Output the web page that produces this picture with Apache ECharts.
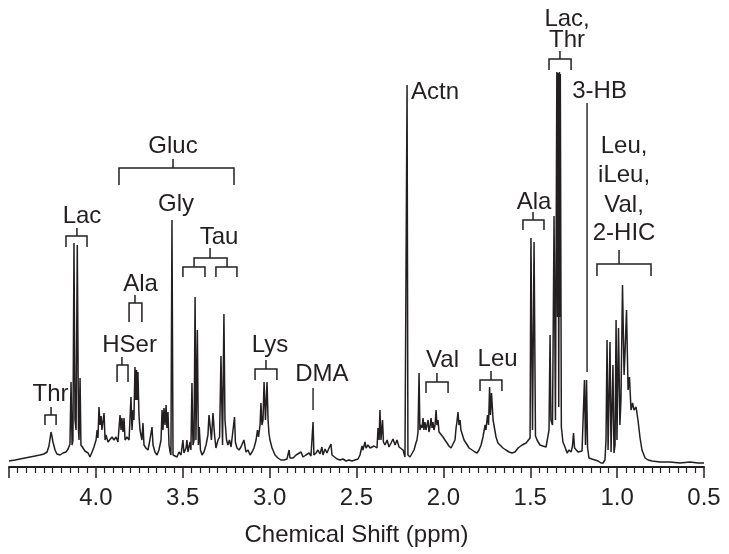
<!DOCTYPE html>
<html><head><meta charset="utf-8">
<script src="https://cdn.jsdelivr.net/npm/echarts@6/dist/echarts.min.js"></script>
<style>html,body{margin:0;padding:0;background:#fff}#c{width:729px;height:554px}</style>
</head><body><div id="c"></div>
<script>
// [chemical shift (ppm), intensity]
const spectrumPoints = [[4.500,6],[4.465,7],[4.437,8],[4.408,9],[4.379,10],[4.350,11],[4.322,12],[4.299,13],[4.281,15],[4.270,21],[4.258,35],[4.253,31],[4.247,25],[4.235,17],[4.224,13],[4.206,12],[4.189,14],[4.172,15],[4.160,18],[4.149,23],[4.143,85],[4.137,22],[4.132,27],[4.126,224],[4.120,47],[4.114,37],[4.107,222],[4.100,37],[4.097,27],[4.091,89],[4.086,22],[4.074,19],[4.063,16],[4.045,14],[4.034,10],[4.022,15],[4.011,20],[3.999,27],[3.993,37],[3.988,29],[3.982,60],[3.976,42],[3.970,51],[3.965,37],[3.953,54],[3.947,27],[3.942,32],[3.930,25],[3.919,27],[3.907,30],[3.896,27],[3.884,30],[3.873,25],[3.861,52],[3.855,37],[3.850,49],[3.844,35],[3.838,49],[3.832,27],[3.821,30],[3.809,27],[3.798,70],[3.792,37],[3.786,57],[3.781,47],[3.775,100],[3.770,67],[3.766,97],[3.762,67],[3.758,95],[3.752,52],[3.746,37],[3.735,27],[3.729,44],[3.723,22],[3.712,19],[3.700,17],[3.689,27],[3.677,40],[3.671,22],[3.660,15],[3.648,12],[3.637,17],[3.625,27],[3.619,57],[3.614,37],[3.608,59],[3.602,42],[3.596,62],[3.591,39],[3.585,55],[3.579,22],[3.573,15],[3.568,12],[3.562,247],[3.556,12],[3.545,14],[3.533,10],[3.522,15],[3.510,12],[3.499,27],[3.493,14],[3.481,19],[3.476,27],[3.470,15],[3.464,17],[3.458,25],[3.453,17],[3.447,84],[3.441,22],[3.435,27],[3.429,170],[3.424,27],[3.416,137],[3.410,22],[3.405,40],[3.398,17],[3.389,12],[3.378,15],[3.366,22],[3.355,32],[3.349,52],[3.340,37],[3.335,27],[3.326,54],[3.317,32],[3.309,19],[3.297,27],[3.288,30],[3.280,111],[3.271,22],[3.263,153],[3.257,47],[3.248,27],[3.240,22],[3.231,27],[3.222,20],[3.211,22],[3.202,50],[3.197,25],[3.188,19],[3.176,17],[3.165,20],[3.148,27],[3.136,15],[3.124,17],[3.113,12],[3.101,15],[3.090,19],[3.078,27],[3.070,37],[3.064,30],[3.055,42],[3.050,64],[3.044,42],[3.038,47],[3.032,85],[3.024,47],[3.015,85],[3.009,47],[3.004,34],[2.998,27],[2.986,19],[2.969,12],[2.952,9],[2.935,7],[2.917,7],[2.900,8],[2.888,17],[2.883,9],[2.865,9],[2.848,12],[2.837,10],[2.819,15],[2.808,10],[2.791,12],[2.773,14],[2.762,11],[2.750,45],[2.745,12],[2.733,14],[2.722,17],[2.710,13],[2.699,20],[2.693,12],[2.681,18],[2.670,14],[2.658,19],[2.647,23],[2.641,12],[2.630,11],[2.612,8],[2.595,7],[2.578,8],[2.560,6],[2.543,7],[2.526,6],[2.509,7],[2.491,8],[2.480,12],[2.468,21],[2.463,17],[2.451,25],[2.445,19],[2.434,22],[2.422,19],[2.411,18],[2.399,21],[2.388,22],[2.382,19],[2.376,39],[2.370,27],[2.365,57],[2.359,27],[2.350,47],[2.345,25],[2.336,22],[2.324,27],[2.313,20],[2.301,24],[2.290,28],[2.278,22],[2.267,27],[2.255,20],[2.244,22],[2.232,17],[2.221,10],[2.215,12],[2.209,382],[2.204,12],[2.192,10],[2.181,12],[2.169,17],[2.158,24],[2.152,27],[2.146,35],[2.140,94],[2.135,37],[2.129,42],[2.123,39],[2.117,49],[2.112,37],[2.106,45],[2.100,37],[2.094,42],[2.088,47],[2.083,35],[2.077,40],[2.071,49],[2.065,39],[2.060,45],[2.054,37],[2.048,42],[2.042,57],[2.037,42],[2.031,47],[2.025,35],[2.014,37],[2.002,30],[1.991,27],[1.979,24],[1.968,21],[1.956,19],[1.945,17],[1.933,27],[1.927,39],[1.922,45],[1.916,55],[1.910,42],[1.904,47],[1.899,37],[1.893,35],[1.881,27],[1.870,24],[1.852,19],[1.835,17],[1.818,15],[1.806,14],[1.795,17],[1.783,22],[1.772,30],[1.760,42],[1.755,37],[1.746,52],[1.740,42],[1.734,80],[1.729,52],[1.723,74],[1.714,47],[1.709,42],[1.697,30],[1.686,24],[1.674,22],[1.657,19],[1.640,17],[1.622,15],[1.605,14],[1.588,15],[1.570,19],[1.559,17],[1.547,22],[1.536,20],[1.524,24],[1.513,22],[1.501,29],[1.496,229],[1.487,37],[1.478,225],[1.470,31],[1.461,27],[1.444,22],[1.427,21],[1.409,20],[1.398,22],[1.392,37],[1.386,132],[1.381,47],[1.372,42],[1.363,251],[1.355,47],[1.347,395],[1.343,150],[1.340,394],[1.336,60],[1.332,395],[1.330,150],[1.327,393],[1.321,40],[1.312,25],[1.306,27],[1.300,20],[1.288,14],[1.277,17],[1.265,15],[1.257,21],[1.251,34],[1.245,19],[1.237,17],[1.225,15],[1.214,16],[1.202,16],[1.194,17],[1.188,87],[1.182,22],[1.176,87],[1.170,19],[1.162,9],[1.145,8],[1.127,7],[1.110,6],[1.093,4],[1.081,4],[1.070,7],[1.064,27],[1.058,127],[1.052,17],[1.047,15],[1.041,125],[1.035,15],[1.029,14],[1.024,102],[1.018,14],[1.012,22],[1.006,147],[1.001,27],[0.992,139],[0.984,42],[0.978,67],[0.969,182],[0.960,92],[0.955,112],[0.946,157],[0.937,77],[0.929,90],[0.920,57],[0.911,64],[0.903,57],[0.891,60],[0.880,47],[0.868,29],[0.857,17],[0.839,9],[0.822,7],[0.799,6],[0.753,5],[0.696,5],[0.638,4],[0.581,5],[0.535,4],[0.500,4]];

// peak assignment labels
const labelTexts   = ['Thr','Lac','Ala','HSer','Gly','Gluc','Tau','Lys','DMA','Actn','Val','Leu','Ala','Lac,','Thr','3-HB','Leu,','iLeu,','Val,','2-HIC'];
const labelShifts  = [4.261,4.080,3.743,3.806,3.539,3.556,3.291,2.998,2.699,2.186,2.005,1.688,1.478,1.288,1.288,1.101,0.960,0.960,0.960,0.960];
const labelHeights = [73,251,183,122,263,321,230,122,93,375,107,108,265,448,427,376,321,292,262,234];
const labelAligns  = ['center','center','center','center','center','center','center','center','center','left','center','center','center','center','center','center','center','center','center','center'];

// brackets: [left ppm, right ppm, stem ppm] and [bar height, stem top, leg bottom]
const bracketShifts = [[4.293,4.229,4.258],[4.172,4.051,4.109],[3.809,3.735,3.775],[3.878,3.815,3.850],[3.867,3.205,3.556],[3.435,3.245,3.343],[3.499,3.372,3.435],[3.309,3.188,3.245],[3.084,2.958,3.021],[2.100,1.973,2.037],[1.789,1.663,1.726],[1.542,1.421,1.484],[1.392,1.265,1.329],[1.116,0.805,0.989]];
const bracketLevels = [[52,60,42],[231,239,220],[164,172,145],[102,110,85],[299,308,282],[209,219,200],[200,200,190],[200,200,190],[98,107,87],[85,94,74],[87,96,76],[247,255,237],[408,416,397],[203,217,191]];

// single leader lines: ppm, [top, bottom]
const leaderShifts = [2.750, 1.173];
const leaderLevels = [[79,57],[364,95]];

const INK = '#231f20';
const FONT = '"Liberation Sans", Arial, Helvetica, sans-serif';
const FS = 24;

const chart = echarts.init(document.getElementById('c'), null, {renderer:'canvas'});
chart.setOption({
  animation: false,
  backgroundColor: '#fff',
  grid: {left: 9, right: 25, top: 0, bottom: 87},
  xAxis: {
    type: 'value', inverse: true, min: 0.5, max: 4.5, interval: 0.5,
    axisLine: {show: true, lineStyle: {color: INK, width: 2}},
    axisTick: {show: true, length: 11, lineStyle: {color: INK, width: 1.5}},
    minorTick: {show: true, splitNumber: 10, length: 6, lineStyle: {color: INK, width: 1.2}},
    splitLine: {show: false}, minorSplitLine: {show: false},
    axisLabel: {fontSize: FS, color: INK, fontFamily: FONT, margin: 19,
      formatter: v => (Math.abs(v - 4.5) < 1e-6 ? '' : v.toFixed(1))},
    name: 'Chemical Shift (ppm)', nameLocation: 'middle', nameGap: 56,
    nameTextStyle: {fontSize: FS, color: INK, fontFamily: FONT}
  },
  yAxis: {type: 'value', min: 0, max: 467, show: false},
  series: [
    {
      type: 'line', data: spectrumPoints, showSymbol: false, symbol: 'none',
      lineStyle: {color: INK, width: 1.5}, sampling: null, silent: true
    },
    {
      type: 'custom', coordinateSystem: 'cartesian2d', silent: true, clip: false,
      data: bracketShifts.map((s, i) => [s[0], s[1], s[2], bracketLevels[i][0], bracketLevels[i][1], bracketLevels[i][2]]),
      encode: {x: [0, 1, 2], y: [3, 4, 5]},
      renderItem: function (params, api) {
        const l = api.value(0), r = api.value(1), st = api.value(2);
        const bar = api.value(3), top = api.value(4), bot = api.value(5);
        const pl = api.coord([l, bot]), plb = api.coord([l, bar]);
        const pr = api.coord([r, bar]), prb = api.coord([r, bot]);
        const children = [{
          type: 'polyline',
          shape: {points: [pl, plb, pr, prb]},
          style: {stroke: INK, lineWidth: 1.5, fill: null}
        }];
        if (top > bar) {
          const a = api.coord([st, bar]), b = api.coord([st, top]);
          children.push({type: 'line', shape: {x1: a[0], y1: a[1], x2: b[0], y2: b[1]},
            style: {stroke: INK, lineWidth: 1.5}});
        }
        return {type: 'group', children: children};
      }
    },
    {
      type: 'custom', coordinateSystem: 'cartesian2d', silent: true, clip: false,
      data: leaderShifts.map((s, i) => [s, leaderLevels[i][0], leaderLevels[i][1]]),
      encode: {x: 0, y: [1, 2]},
      renderItem: function (params, api) {
        const a = api.coord([api.value(0), api.value(1)]);
        const b = api.coord([api.value(0), api.value(2)]);
        return {type: 'line', shape: {x1: a[0], y1: a[1], x2: b[0], y2: b[1]},
          style: {stroke: INK, lineWidth: 1.4}};
      }
    },
    {
      type: 'custom', coordinateSystem: 'cartesian2d', silent: true, clip: false,
      data: labelShifts.map((s, i) => [s, labelHeights[i], i]),
      encode: {x: 0, y: 1},
      renderItem: function (params, api) {
        const p = api.coord([api.value(0), api.value(1)]);
        const idx = api.value(2);
        return {type: 'text', x: p[0], y: p[1],
          style: {text: labelTexts[idx], fill: INK, fontSize: FS, fontFamily: FONT,
            align: labelAligns[idx], verticalAlign: 'middle'}};
      }
    }
  ]
});
</script>
</body></html>
